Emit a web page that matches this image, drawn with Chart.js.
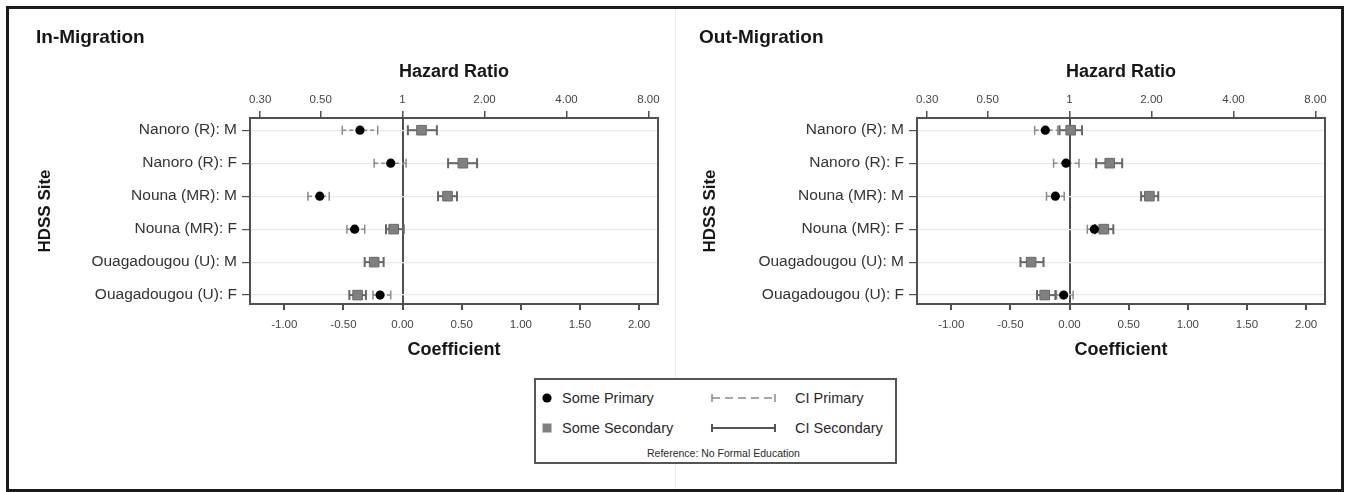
<!DOCTYPE html>
<html>
<head>
<meta charset="utf-8">
<title>Hazard ratios of migration by education level and HDSS site</title>
<script src="https://cdn.jsdelivr.net/npm/chart.js@4.4.1/dist/chart.umd.min.js"></script>
<style>
  html, body { margin: 0; padding: 0; background: #fff; }
  body { width: 1349px; height: 492px; position: relative; overflow: hidden;
         font-family: "Liberation Sans", Arial, Helvetica, sans-serif; }
  #frame { position: absolute; left: 6px; top: 6px; width: 1338px; height: 486px;
           border: 3px solid #1a1a1a; box-sizing: border-box; }
  #divider { position: absolute; left: 675px; top: 9px; width: 1px; height: 480px; background: #ececec; }
  .panel { position: absolute; top: 0; height: 378px; }
  #pIn { left: 0; width: 675px; }
  #pOut { left: 675px; width: 668px; }
  .ptitle { position: absolute; top: 26px; font-weight: bold; font-size: 19px; line-height: 22px; color: #161616; }
  #legend { position: absolute; left: 534px; top: 378px; width: 363px; height: 86px;
            border: 2px solid #555; box-sizing: border-box; background: #fff; }
  #legend svg { position: absolute; left: 0; top: 0; }
  .lg { position: absolute; font-size: 14.5px; line-height: 18px; color: #2a2a2a; white-space: nowrap; }
  .lgref { position: absolute; font-size: 10.5px; line-height: 12px; color: #2a2a2a; white-space: nowrap; }
</style>
</head>
<body>
<div id="frame"></div>
<div id="divider"></div>
<div class="panel" id="pIn"><canvas id="chartIn"></canvas></div>
<div class="panel" id="pOut"><canvas id="chartOut"></canvas></div>
<div class="ptitle" style="left:36px">In-Migration</div>
<div class="ptitle" style="left:699px">Out-Migration</div>

<div id="legend">
  <svg width="359" height="82">
    <circle cx="11" cy="18" r="4.6" fill="#000"/>
    <rect x="6.5" y="43.5" width="9" height="9" fill="#808080"/>
    <g stroke="#8a8a8a" stroke-width="1.5">
      <line x1="176" y1="18" x2="239" y2="18" stroke-dasharray="8,5"/>
      <line x1="176" y1="14" x2="176" y2="22"/>
      <line x1="239" y1="14" x2="239" y2="22"/>
    </g>
    <g stroke="#555" stroke-width="2">
      <line x1="176" y1="48" x2="239" y2="48"/>
      <line x1="176" y1="44" x2="176" y2="52"/>
      <line x1="239" y1="44" x2="239" y2="52"/>
    </g>
  </svg>
  <div class="lg" style="left:26px; top:9px">Some Primary</div>
  <div class="lg" style="left:259px; top:9px">CI Primary</div>
  <div class="lg" style="left:26px; top:39px">Some Secondary</div>
  <div class="lg" style="left:259px; top:39px">CI Secondary</div>
  <div class="lgref" style="left:111px; top:67px">Reference: No Formal Education</div>
</div>

<script>
// HDSS sites (rows, top to bottom)
const sites = [
  'Nanoro (R): M',
  'Nanoro (R): F',
  'Nouna (MR): M',
  'Nouna (MR): F',
  'Ouagadougou (U): M',
  'Ouagadougou (U): F'
];

// Axis ticks
const coefTicks = [-1, -0.5, 0, 0.5, 1, 1.5, 2];
const hrTicks = [0.3, 0.5, 1, 2, 4, 8];
const hrTickLabels = ['0.30', '0.50', '1', '2.00', '4.00', '8.00'];

// In-migration coefficients (reference: no formal education)
const inPrimary     = [-0.36, -0.10, -0.70, -0.405, null, -0.19];
const inPrimaryLo   = [-0.51, -0.24, -0.80, -0.47,  null, -0.25];
const inPrimaryHi   = [-0.21,  0.03, -0.62, -0.32,  null, -0.10];
const inSecondary   = [ 0.16,  0.51,  0.38, -0.075, -0.24, -0.38];
const inSecondaryLo = [ 0.045, 0.385, 0.30, -0.14,  -0.32, -0.45];
const inSecondaryHi = [ 0.29,  0.63,  0.46,  0.01,  -0.16, -0.31];

// Out-migration coefficients (reference: no formal education)
const outPrimary     = [-0.205, -0.03,  -0.12,  0.21, null, -0.05];
const outPrimaryLo   = [-0.295, -0.135, -0.195, 0.15, null, -0.11];
const outPrimaryHi   = [-0.10,   0.08,  -0.045, 0.25, null,  0.03];
const outSecondary   = [ 0.01,   0.34,   0.675, 0.29, -0.325, -0.21];
const outSecondaryLo = [-0.085,  0.225,  0.605, 0.215, -0.415, -0.275];
const outSecondaryHi = [ 0.105,  0.445,  0.75,  0.37,  -0.22,  -0.12];

const FONT = '"Liberation Sans", Arial, Helvetica, sans-serif';
Chart.defaults.font.family = FONT;

function points(est, lo, hi) {
  const out = [];
  est.forEach((v, i) => {
    if (v !== null) out.push({ x: v, y: i, lo: lo[i], hi: hi[i] });
  });
  return out;
}

// Plot frame around the chart area
const plotFrame = {
  id: 'plotFrame',
  beforeDatasetsDraw(chart) {
    const { ctx, chartArea: a } = chart;
    ctx.save();
    ctx.strokeStyle = '#505050';
    ctx.lineWidth = 2;
    ctx.strokeRect(a.left, a.top, a.right - a.left, a.bottom - a.top);
    ctx.restore();
  }
};

// Confidence-interval bars with end caps
const ciBars = {
  id: 'ciBars',
  beforeDatasetsDraw(chart) {
    const { ctx } = chart;
    const xs = chart.scales.x, ys = chart.scales.y;
    ctx.save();
    chart.data.datasets.forEach(ds => {
      ds.data.forEach(p => {
        const yp = ys.getPixelForValue(p.y);
        const x0 = xs.getPixelForValue(p.lo);
        const x1 = xs.getPixelForValue(p.hi);
        ctx.strokeStyle = ds.ciColor;
        ctx.lineWidth = ds.ciWidth;
        ctx.setLineDash(ds.ciDash);
        ctx.beginPath();
        ctx.moveTo(x0, yp); ctx.lineTo(x1, yp);
        ctx.stroke();
        ctx.setLineDash([]);
        ctx.beginPath();
        ctx.moveTo(x0, yp - ds.ciCap); ctx.lineTo(x0, yp + ds.ciCap);
        ctx.moveTo(x1, yp - ds.ciCap); ctx.lineTo(x1, yp + ds.ciCap);
        ctx.stroke();
      });
    });
    ctx.restore();
  }
};

const XMIN = -1.29, XMAX = 2.16;

function makeChart(canvasId, prim, pLo, pHi, sec, sLo, sHi, yWidth, rightPad, yTitlePad) {
  const tickFont = { size: 11.5 };
  const titleFont = { size: 18, weight: 'bold' };
  return new Chart(document.getElementById(canvasId), {
    type: 'scatter',
    data: {
      datasets: [
        {
          label: 'Some Primary',
          data: points(prim, pLo, pHi),
          pointStyle: 'circle',
          pointRadius: 4.6,
          backgroundColor: '#000',
          borderColor: '#000',
          borderWidth: 0,
          ciColor: '#8a8a8a', ciWidth: 1.5, ciDash: [4, 3], ciCap: 4.5
        },
        {
          label: 'Some Secondary',
          data: points(sec, sLo, sHi),
          pointStyle: 'rect',
          pointRadius: 6.8,
          backgroundColor: '#808080',
          borderColor: '#686868',
          borderWidth: 1,
          ciColor: '#666', ciWidth: 2, ciDash: [], ciCap: 5
        }
      ]
    },
    options: {
      responsive: true,
      maintainAspectRatio: false,
      animation: false,
      events: [],
      layout: { padding: { left: 0, top: 0, right: rightPad, bottom: 0 } },
      plugins: {
        legend: { display: false },
        tooltip: { enabled: false },
        title: { display: false }
      },
      scales: {
        x: {
          type: 'linear',
          position: 'bottom',
          min: XMIN, max: XMAX,
          afterBuildTicks: s => { s.ticks = coefTicks.map(v => ({ value: v })); },
          afterFit: s => { s.height = 74; },
          ticks: {
            callback: v => Number(v).toFixed(2),
            font: tickFont, color: '#444', padding: 8, maxRotation: 0, autoSkip: false
          },
          grid: {
            color: c => (c.tick && c.tick.value === 0) ? '#505050' : 'rgba(0,0,0,0)',
            lineWidth: 2,
            tickColor: '#505050',
            tickLength: 6
          },
          border: { display: false },
          title: {
            display: true, text: 'Coefficient', font: titleFont, color: '#161616',
            padding: { top: 0, bottom: 17 }
          }
        },
        x2: {
          type: 'linear',
          axis: 'x',
          position: 'top',
          min: XMIN, max: XMAX,
          afterBuildTicks: s => { s.ticks = hrTicks.map(v => ({ value: Math.log(v) })); },
          afterFit: s => { s.height = 118; },
          ticks: {
            callback: (v, i) => hrTickLabels[i],
            font: tickFont, color: '#444', padding: 4, maxRotation: 0, autoSkip: false
          },
          grid: {
            drawOnChartArea: false,
            color: '#505050',
            tickColor: '#505050',
            lineWidth: 1.5,
            tickLength: 7
          },
          border: { display: false },
          title: {
            display: true, text: 'Hazard Ratio', font: titleFont, color: '#161616',
            padding: { top: 61, bottom: 0 }
          }
        },
        y: {
          type: 'linear',
          reverse: true,
          min: -0.37, max: 5.27,
          afterBuildTicks: s => { s.ticks = sites.map((_, i) => ({ value: i })); },
          afterFit: s => { s.width = yWidth; },
          ticks: {
            callback: v => sites[v],
            font: { size: 15.5 }, color: '#333', padding: 5, autoSkip: false
          },
          grid: {
            color: '#e8e8e8',
            lineWidth: 1.2,
            tickColor: '#505050',
            tickLength: 8
          },
          border: { display: false },
          title: {
            display: true, text: 'HDSS Site', font: { size: 17, weight: 'bold' }, color: '#161616',
            padding: { top: yTitlePad, bottom: 0 }
          }
        }
      }
    },
    plugins: [plotFrame, ciBars]
  });
}

makeChart('chartIn', inPrimary, inPrimaryLo, inPrimaryHi,
          inSecondary, inSecondaryLo, inSecondaryHi, 250, 17, 34.8);
makeChart('chartOut', outPrimary, outPrimaryLo, outPrimaryHi,
          outSecondary, outSecondaryLo, outSecondaryHi, 242, 18, 24.8);
</script>
</body>
</html>
